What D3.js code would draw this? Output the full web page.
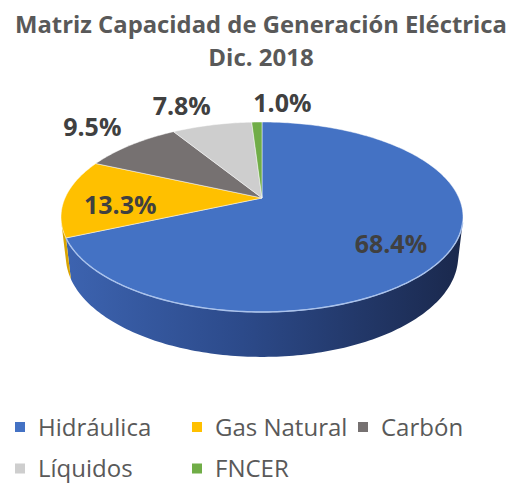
<!DOCTYPE html>
<html lang="es">
<head>
  <meta charset="utf-8">
  <title>Matriz Capacidad de Generación Eléctrica</title>
  <style>
  * { margin:0; padding:0; }
  body { background:#fff; }
  text { font-family: "Open Sans", "Noto Sans", sans-serif; }
  </style>
  <script src="https://d3js.org/d3.v7.min.js"></script>
</head>
<body>
  <div id="chart"></div>
  <script type="text/javascript">
  // data
  var categories = ["Hidráulica", "Gas Natural", "Carbón", "Líquidos", "FNCER"];
  var values = [68.4, 13.3, 9.5, 7.8, 1.0];
  var titleLines = ["Matriz Capacidad de Generación Eléctrica", "Dic. 2018"];

  var palette = ["#4472c4", "#ffc000", "#767171", "#cecece", "#70ad47"];

  var w = 514, h = 486;
  var svg = d3.select("#chart").append("svg")
    .attr("width", w)
    .attr("height", h);

  // camera for the tilted pie (perspective)
  var cx = 262, cy = 198;
  var f = 872.8, sinP = 0.463, cosP = Math.sqrt(1 - sinP * sinP);
  var D = 5 * cosP, thick = 0.2276;

  function proj(t, k, Y) {
    var X = k * Math.sin(t), Z = k * Math.cos(t);
    var yc = Y * cosP + Z * sinP, zc = D + Z * cosP - Y * sinP;
    return [cx + f * X / zc, cy - f * yc / zc];
  }
  function arcPts(a, b, k, Y) {
    var n = Math.max(2, Math.ceil(Math.abs(b - a) / (Math.PI / 180)));
    return d3.range(n + 1).map(function(i) { return proj(a + (b - a) * i / n, k, Y); });
  }
  var line = d3.line();

  var pie = d3.pie().sort(null).value(function(d) { return d; });
  var arcs = pie(values);

  var defs = svg.append("defs");
  var grad = defs.append("linearGradient")
    .attr("id", "sideBlue")
    .attr("gradientUnits", "userSpaceOnUse")
    .attr("x1", 61).attr("x2", 463).attr("y1", 0).attr("y2", 0);
  grad.append("stop").attr("offset", 0).attr("stop-color", "#3d64b1");
  grad.append("stop").attr("offset", 0.45).attr("stop-color", "#2c4a8a");
  grad.append("stop").attr("offset", 1).attr("stop-color", "#1a284c");

  // outer wall, only the part that faces the viewer
  var visLo = Math.acos(-1 / (D * cosP)), visHi = 2 * Math.PI - visLo;
  var walls = svg.append("g");
  arcs.forEach(function(d, i) {
    var a = Math.max(d.startAngle, visLo), b = Math.min(d.endAngle, visHi);
    if (a >= b) return;
    var pts = arcPts(a, b, 1, 0).concat(arcPts(b, a, 1, -thick));
    walls.append("path")
      .attr("d", line(pts) + "Z")
      .attr("fill", i == 0 ? "url(#sideBlue)" : d3.color(palette[i]).darker(0.45));
  });

  // top faces
  var tops = svg.append("g");
  tops.selectAll("path")
    .data(arcs)
    .enter()
    .append("path")
    .attr("d", function(d) {
      return line([proj(0, 0, 0)].concat(arcPts(d.startAngle, d.endAngle, 1, 0))) + "Z";
    })
    .attr("fill", function(d, i) { return palette[i]; })
    .attr("stroke", "#ffffff")
    .attr("stroke-opacity", 0.6)
    .attr("stroke-width", 0.8)
    .attr("stroke-linejoin", "round");

  // light bevel on the front rim
  svg.append("path")
    .attr("d", line(arcPts(visLo, arcs[0].endAngle, 1, 0)))
    .attr("fill", "none")
    .attr("stroke", "#a9c2ec")
    .attr("stroke-width", 1.4);

  // data labels
  var fmt = d3.format(".1%");
  svg.append("g").selectAll("text")
    .data(arcs)
    .enter()
    .append("text")
    .each(function(d) {
      var mid = (d.startAngle + d.endAngle) / 2;
      var t = d3.select(this);
      if (d.value >= 10) {
        var p = proj(mid, 0.72, 0);
        t.attr("x", p[0]).attr("y", p[1] + 7).attr("dy", "0.35em").attr("text-anchor", "middle");
      } else {
        var q = proj(mid, 1.12, 0);
        var left = Math.sin(mid) < -0.05;
        t.attr("x", q[0] + (left ? 4 : -3)).attr("y", q[1] - 3)
          .attr("text-anchor", left ? "end" : "start");
      }
    })
    .attr("font-size", 25)
    .attr("font-weight", "bold")
    .attr("fill", "#404040")
    .text(function(d) { return fmt(d.value / 100); });

  // title
  svg.append("g").selectAll("text")
    .data(titleLines)
    .enter()
    .append("text")
    .attr("x", 261)
    .attr("y", function(d, i) { return 33 + i * 33; })
    .attr("text-anchor", "middle")
    .attr("font-size", 24)
    .attr("font-weight", "bold")
    .attr("fill", "#595959")
    .text(function(d) { return d; })
    .each(function(d, i) {
      if (i == 0) d3.select(this).attr("textLength", 492).attr("lengthAdjust", "spacingAndGlyphs");
    });

  // legend
  var colX = [15, 192, 358], rowY = [427, 468.5];
  var leg = svg.append("g").selectAll("g")
    .data(categories)
    .enter()
    .append("g")
    .attr("transform", function(d, i) {
      return "translate(" + colX[i % 3] + "," + rowY[Math.floor(i / 3)] + ")";
    });
  leg.append("rect")
    .attr("x", 0).attr("y", -5)
    .attr("width", 10).attr("height", 10)
    .attr("fill", function(d, i) { return palette[i]; });
  leg.append("text")
    .attr("x", 23).attr("y", 8.5)
    .attr("font-size", 24)
    .attr("fill", "#595959")
    .text(function(d) { return d; });
  </script>
</body>
</html>
